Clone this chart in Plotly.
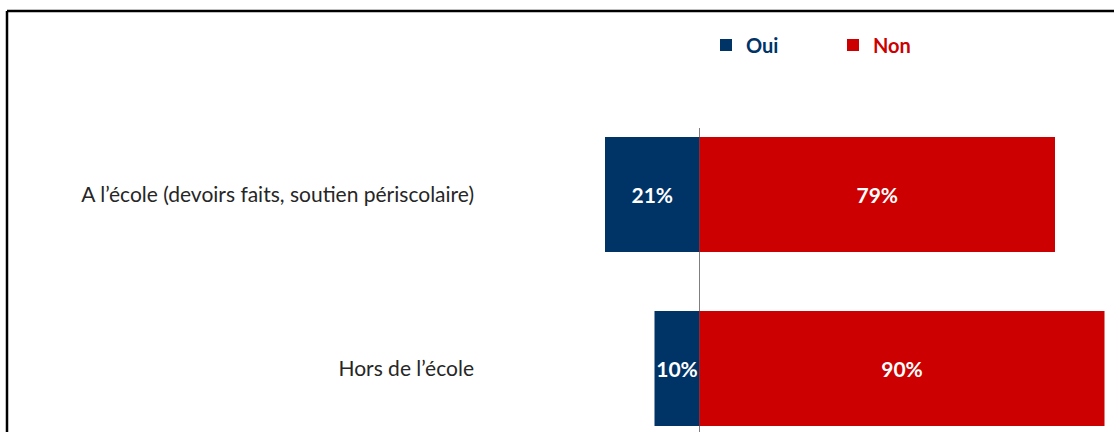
import plotly.graph_objects as go

categories = ["Hors de l’école", "A l’école (devoirs faits, soutien périscolaire)"]
oui = [10, 21]
non = [90, 79]
series_names = ["Oui", "Non"]

BLUE = "#003366"
RED = "#CC0000"
FONT = "Lato"

W, H = 1114, 432
L, R, T, B = 520, 0, 128, 0

fig = go.Figure()
for vals, sign, name, color in [(oui, -1, series_names[0], BLUE), (non, 1, series_names[1], RED)]:
    fig.add_trace(go.Bar(
        y=categories, x=[sign * v for v in vals], orientation="h",
        name=f"<span style='color:{color}'>{name}</span>",
        marker=dict(color=color, line=dict(width=0)),
        text=[f"{v}%" for v in vals], textposition="inside", insidetextanchor="middle",
        constraintext="none", textangle=0,
        insidetextfont=dict(color="white", size=21, family=FONT, weight="bold"),
        width=0.66, hoverinfo="skip",
    ))

pw = W - L - R
ph = H - T - B
def px_x(p):
    return (p - L) / pw
def px_y(p):
    return (H - B - p) / ph

fig.update_layout(
    width=W, height=H,
    margin=dict(l=L, r=R, t=T, b=B, pad=0),
    barmode="relative",
    paper_bgcolor="white", plot_bgcolor="white",
    font=dict(family=FONT, size=20, color="#262626"),
    showlegend=True,
    legend=dict(
        orientation="h", x=px_x(706), xanchor="left", y=px_y(45), yanchor="middle",
        font=dict(family=FONT, size=20, weight="bold"),
        entrywidth=82, entrywidthmode="pixels", traceorder="normal",
        bgcolor="rgba(0,0,0,0)",
    ),
    xaxis=dict(
        range=[-(699.5 - L) / 4.5, (W - R - 699.5) / 4.5],
        showgrid=False, showticklabels=False, ticks="",
        zeroline=True, zerolinecolor="#7f7f7f", zerolinewidth=1,
        fixedrange=True,
    ),
    yaxis=dict(
        type="category", range=[-0.365, 1.382],
        showgrid=False, zeroline=False, showline=False, ticks="",
        ticklabelstandoff=45,
        tickfont=dict(family=FONT, size=21, color="#262626"),
        fixedrange=True,
    ),
    shapes=[
        dict(type="line", xref="paper", yref="paper",
             x0=px_x(7), x1=px_x(W + 5), y0=px_y(11), y1=px_y(11),
             line=dict(color="black", width=2.5)),
        dict(type="line", xref="paper", yref="paper",
             x0=px_x(7), x1=px_x(7), y0=px_y(11), y1=px_y(H + 5),
             line=dict(color="black", width=2.5)),
    ],
)

fig.write_html(
    "out.html",
    config={"displayModeBar": False},
    post_script="document.body.style.margin='0';document.body.style.padding='0';",
)
